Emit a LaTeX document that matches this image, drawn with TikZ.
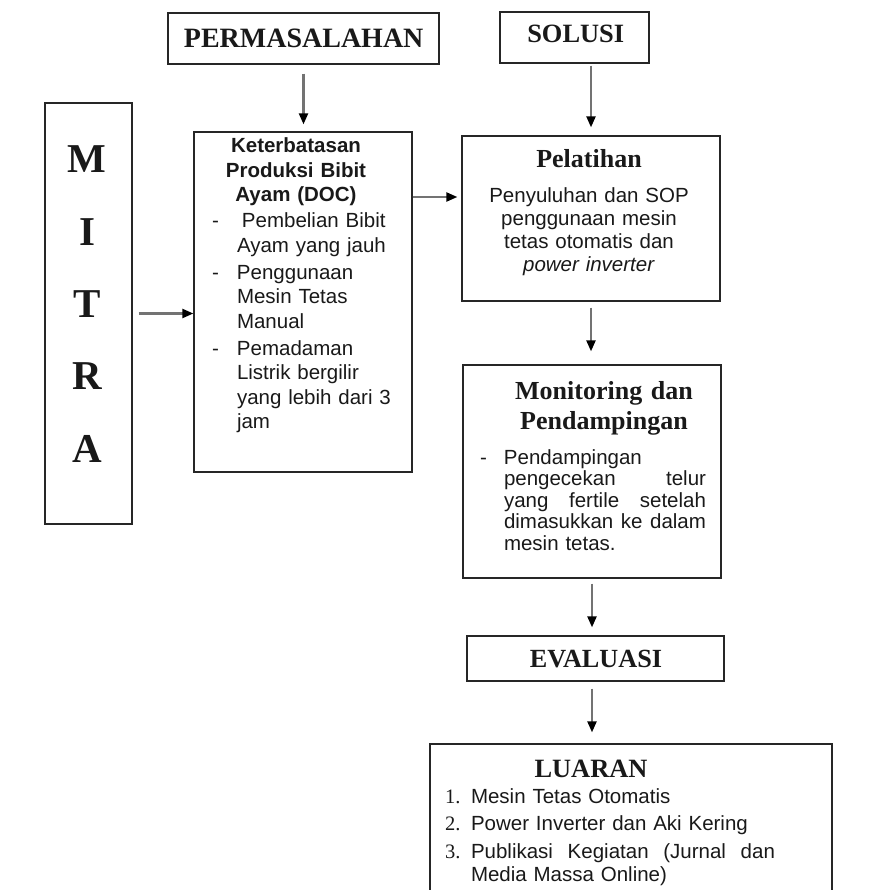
\documentclass[tikz,border=0pt]{standalone}
\usepackage{fontspec}
\setmainfont{Liberation Serif}
\newfontfamily\arial{Liberation Sans}
\usetikzlibrary{arrows.meta}
\newcommand\bodytxt{\arial\fontsize{20.5}{24.3}\selectfont}
\newcommand\hdrtxt{\rmfamily\bfseries\fontsize{26}{30}\selectfont}
\begin{document}
\begin{tikzpicture}[x=1pt,y=-1pt,
  box/.style={draw=black!85, line width=1.3pt, rectangle, inner sep=0pt},
  txt/.style={inner sep=0pt, outer sep=0pt, text=black!90},
  arr/.style={-{Triangle[length=11pt,width=9pt,color=black]}, line width=2.2pt, draw=black!55}]
\path[use as bounding box] (0,0) rectangle (884,890);

% boxes
\node[box, minimum width=271pt, minimum height=51pt] (perm) at (303.5,38.5) {};
\node[box, minimum width=149pt, minimum height=51pt] (sol) at (574.5,37.5) {};
\node[box, minimum width=87pt, minimum height=421pt] (mitra) at (88.5,313.5) {};
\node[box, minimum width=218pt, minimum height=340pt] (ket) at (303,302) {};
\node[box, minimum width=258pt, minimum height=165pt] (pel) at (591,218.5) {};
\node[box, minimum width=258pt, minimum height=213pt] (mon) at (592,471.5) {};
\node[box, minimum width=257pt, minimum height=45pt] (eval) at (595.5,658.5) {};
\begin{scope}
\clip (0,0) rectangle (884,890);
\node[box, minimum width=402pt, minimum height=170pt] (lua) at (631,829) {};
\end{scope}

% titles
\node[txt, anchor=base, font=\rmfamily\bfseries\fontsize{28}{30}\selectfont] (permt) at (303.7,48) {PERMASALAHAN};
\node[txt, anchor=base, font=\rmfamily\bfseries\fontsize{26.4}{30}\selectfont] (solt) at (575.7,43) {SOLUSI};
\node[txt, anchor=base, text width=60pt, align=center, font=\rmfamily\bfseries\fontsize{41}{72.3}\selectfont] (mitrat) at (87,173) {M\\I\\T\\R\\A};

% Keterbatasan
\node[txt, anchor=base, text width=200pt, align=center, font=\bodytxt\bfseries] (keth) at (296,153) {Keterbatasan\\Produksi Bibit\\Ayam (DOC)};
\node[txt, anchor=base west, text width=190pt, align=left, font=\bodytxt] (ketl) at (212,228)
 {\makebox[25pt][l]{-}\hspace{5pt}Pembelian Bibit\\
  \hspace*{25pt}Ayam yang jauh\\[3pt]
  \makebox[25pt][l]{-}Penggunaan\\
  \hspace*{25pt}Mesin Tetas\\
  \hspace*{25pt}Manual\\[3pt]
  \makebox[25pt][l]{-}Pemadaman\\
  \hspace*{25pt}Listrik bergilir\\
  \hspace*{25pt}yang lebih dari 3\\
  \hspace*{25pt}jam};

% Pelatihan
\node[txt, anchor=base, font=\hdrtxt] (pelh) at (589,168) {Pelatihan};
\node[txt, anchor=base, text width=240pt, align=center, font=\arial\fontsize{20.5}{23}\selectfont] (pelb) at (589,203)
 {Penyuluhan dan SOP\\penggunaan mesin\\tetas otomatis dan\\\textit{power inverter}};

% Monitoring
\node[txt, anchor=base, text width=240pt, align=center, font=\hdrtxt] (monh) at (604,399) {Monitoring dan\\Pendampingan};
\node[txt, anchor=base west, text width=236pt, align=left, font=\arial\fontsize{20.5}{21.5}\selectfont] (monl) at (480,464)
 {\makebox[24pt][l]{-}Pendampingan\\
  \hspace*{24pt}\hbox to 202pt{pengecekan\hfill telur}\\
  \hspace*{24pt}\hbox to 202pt{yang\hfill fertile\hfill setelah}\\
  \hspace*{24pt}\hbox to 202pt{dimasukkan\hfill ke\hfill dalam}\\
  \hspace*{24pt}mesin tetas.};

% Evaluasi
\node[txt, anchor=base, font=\rmfamily\bfseries\fontsize{26.2}{30}\selectfont] (evalt) at (596,667) {EVALUASI};

% Luaran
\node[txt, anchor=base, font=\rmfamily\bfseries\fontsize{26.4}{30}\selectfont] (luat) at (591,777) {LUARAN};
\node[txt, anchor=base west, text width=380pt, align=left, font=\arial\fontsize{20.5}{23}\selectfont] (lual) at (445,803)
 {\makebox[26pt][l]{\rmfamily 1.}Mesin Tetas Otomatis\\[4pt]
  \makebox[26pt][l]{\rmfamily 2.}Power Inverter dan Aki Kering\\[5pt]
  \makebox[26pt][l]{\rmfamily 3.}\hbox to 304pt{Publikasi\hfill Kegiatan\hfill (Jurnal\hfill dan}\\
  \hspace*{26pt}Media Massa Online)};

% connectors
\coordinate (ay) at (0,197);
\draw[arr, shorten <=9pt, shorten >=7pt] (perm.south) -- (perm.south |- ket.north);
\draw[arr, shorten <=2pt, shorten >=8pt] (sol.south -| pel.north) -- (pel.north);
\draw[arr, shorten <=6pt, shorten >=0pt] (mitra.east) -- (mitra.east -| ket.west);
\draw[arr, shorten >=4pt] (ket.east |- ay) -- (pel.west |- ay);
\draw[arr, shorten <=6pt, shorten >=13pt] (pel.south) -- (pel.south |- mon.north);
\draw[arr, shorten <=5pt, shorten >=8pt] (mon.south) -- (mon.south |- eval.north);
\draw[arr, shorten <=7pt, shorten >=11pt] (eval.south -| mon.south) -- (mon.south |- lua.north);
\end{tikzpicture}
\end{document}
